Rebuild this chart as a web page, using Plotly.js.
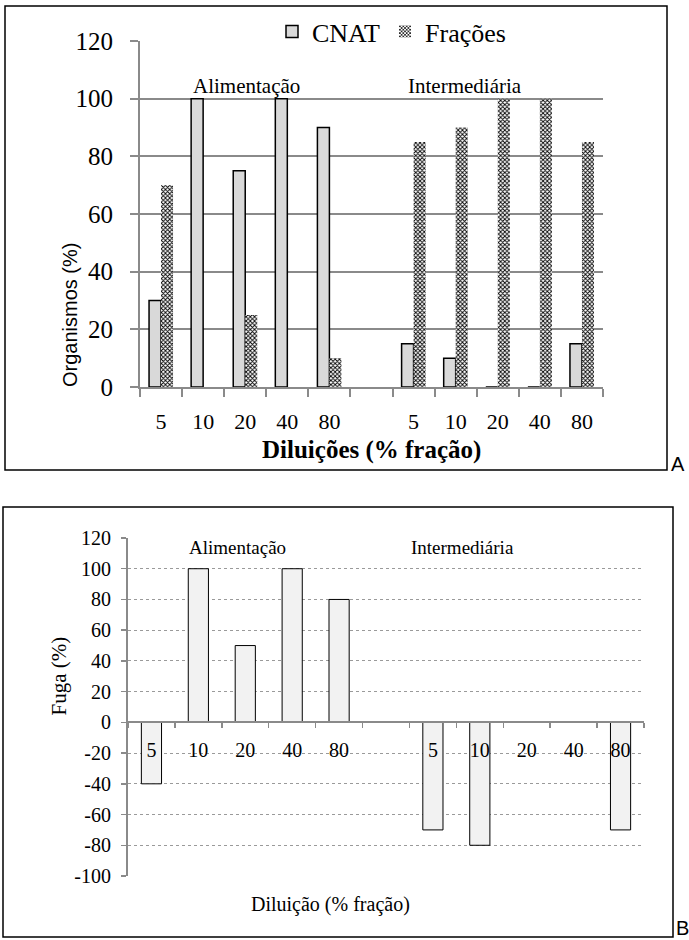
<!DOCTYPE html>
<html>
<head>
<meta charset="utf-8">
<script src="https://cdn.plot.ly/plotly-3.0.1.min.js"></script>
<style>
  html, body { margin: 0; padding: 0; background: #ffffff; }
  #chart { width: 689px; height: 940px; }
</style>
</head>
<body>
<div id="chart"></div>
<script>
// ---------------- data ----------------
const groups = ['Alimentação', 'Intermediária'];
const dilutionLabels = ['5', '10', '20', '40', '80'];
const seriesNames = ['CNAT', 'Frações'];

// Chart A – Organismos (%)
const cnatAlimentacao = [30, 100, 75, 100, 90];
const cnatIntermediaria = [15, 10, 0, 0, 15];
const fracoesAlimentacao = [70, 0, 25, 0, 10];
const fracoesIntermediaria = [85, 90, 100, 100, 85];

// Chart B – Fuga (%)
const fugaAlimentacao = [-40, 100, 50, 100, 80];
const fugaIntermediaria = [-70, -80, 0, 0, -70];

const yTicksA = [0, 20, 40, 60, 80, 100, 120];
const yTicksB = [-100, -80, -60, -40, -20, 0, 20, 40, 60, 80, 100, 120];

// ---------------- helpers ----------------
const W = 689, H = 940;
const px = v => v / W;
const py = v => 1 - v / H;
const slotsPerGroup = dilutionLabels.length + 1;
const xPos = [];
const xText = [];
groups.forEach((g, gi) => dilutionLabels.forEach((d, i) => { xPos.push(gi * slotsPerGroup + i); xText.push(d); }));
const nSlots = groups.length * slotsPerGroup - 1;
const xRange = [-0.5, nSlots - 0.5];

const cnat = cnatAlimentacao.concat(cnatIntermediaria);
const fracoes = fracoesAlimentacao.concat(fracoesIntermediaria);
const fuga = fugaAlimentacao.concat(fugaIntermediaria);

const serif = 'Liberation Serif';
const sans = 'Liberation Sans';
const axisGray = '#8a8a8a';

const xDomA = [px(140), px(603)];
const yDomA = [py(387), py(41)];
const xDomB = [px(128), px(644)];
const yDomB = [py(876), py(538)];
const yRangeB = [yTicksB[0], yTicksB[yTicksB.length - 1]];
const zeroPosB = yDomB[0] + (yDomB[1] - yDomB[0]) * (0 - yRangeB[0]) / (yRangeB[1] - yRangeB[0]);

const traces = [
  {
    type: 'bar', name: seriesNames[0], x: xPos, y: cnat, xaxis: 'x', yaxis: 'y',
    marker: { color: '#d9d9d9', line: { color: '#000000', width: 1.5 } },
    hoverinfo: 'skip'
  },
  {
    type: 'bar', name: seriesNames[1], x: xPos, y: fracoes, xaxis: 'x', yaxis: 'y',
    marker: { color: '#ffffff', line: { color: '#000000', width: 0 },
      pattern: { shape: 'x', fgcolor: '#000000', bgcolor: '#ffffff', size: 3, solidity: 0.5 } },
    hoverinfo: 'skip'
  },
  {
    type: 'bar', name: 'Fuga', x: xPos, y: fuga, xaxis: 'x2', yaxis: 'y2', showlegend: false,
    width: 0.43,
    marker: { color: '#f2f2f2', line: { color: '#000000', width: 1 } },
    hoverinfo: 'skip'
  }
];

const boundaryTicks = [];
for (let i = 0; i <= nSlots; i++) boundaryTicks.push(i - 0.5);

const layout = {
  width: W, height: H,
  margin: { l: 0, r: 0, t: 0, b: 0 },
  paper_bgcolor: '#ffffff', plot_bgcolor: 'rgba(0,0,0,0)',
  barmode: 'group', bargap: 0.43, bargroupgap: 0,
  showlegend: true,
  legend: {
    orientation: 'h', x: px(272), y: py(8), xanchor: 'left', yanchor: 'top',
    font: { family: serif, size: 26, color: '#000' }, itemwidth: 30,
    bgcolor: 'rgba(0,0,0,0)', traceorder: 'normal'
  },
  xaxis: {
    domain: xDomA, range: xRange, anchor: 'y',
    tickmode: 'array', tickvals: xPos, ticktext: xText, ticks: '',
    ticklabelstandoff: 14,
    minor: { tickmode: 'array', tickvals: boundaryTicks, ticks: 'outside', ticklen: 8, tickwidth: 2, tickcolor: axisGray },
    showline: true, linecolor: axisGray, linewidth: 2,
    showgrid: false, zeroline: false,
    tickfont: { family: serif, size: 22, color: '#000' }
  },
  yaxis: {
    domain: yDomA, range: [yTicksA[0], yTicksA[yTicksA.length - 1]], anchor: 'x',
    tickmode: 'array', tickvals: yTicksA, ticktext: yTicksA.map(String),
    ticks: 'outside', ticklen: 8, tickwidth: 2, tickcolor: axisGray,
    ticklabelstandoff: 12,
    showline: true, linecolor: axisGray, linewidth: 2,
    showgrid: true, gridcolor: axisGray, gridwidth: 2, zeroline: false,
    tickfont: { family: serif, size: 25, color: '#000' }
  },
  xaxis2: {
    domain: xDomB, range: xRange, anchor: 'free', position: zeroPosB,
    tickmode: 'array', tickvals: xPos, ticktext: xText, ticks: '',
    ticklabelstandoff: 10,
    minor: { tickmode: 'array', tickvals: boundaryTicks, ticks: 'outside', ticklen: 5, tickwidth: 1.5, tickcolor: axisGray },
    showline: true, linecolor: axisGray, linewidth: 2,
    showgrid: false, zeroline: false,
    tickfont: { family: serif, size: 20, color: '#000' }
  },
  yaxis2: {
    domain: yDomB, range: yRangeB, anchor: 'x2',
    tickmode: 'array', tickvals: yTicksB, ticktext: yTicksB.map(String),
    ticks: 'outside', ticklen: 5, tickwidth: 1.5, tickcolor: axisGray,
    ticklabelstandoff: 6,
    showline: true, linecolor: axisGray, linewidth: 2,
    showgrid: true, gridcolor: '#9a9a9a', gridwidth: 1, griddash: 'dot', zeroline: false,
    tickfont: { family: serif, size: 20, color: '#000' }
  },
  shapes: [
    { type: 'rect', xref: 'paper', yref: 'paper', x0: px(5), x1: px(667), y0: py(470), y1: py(6),
      line: { color: '#000', width: 1.5 }, fillcolor: 'rgba(0,0,0,0)', layer: 'below' },
    { type: 'rect', xref: 'paper', yref: 'paper', x0: px(3), x1: px(673), y0: py(937), y1: py(507),
      line: { color: '#000', width: 1.5 }, fillcolor: 'rgba(0,0,0,0)', layer: 'below' }
  ],
  annotations: [
    { text: groups[0], xref: 'paper', yref: 'paper', x: px(246), y: py(72), showarrow: false,
      font: { family: serif, size: 21, color: '#000' } },
    { text: groups[1], xref: 'paper', yref: 'paper', x: px(524), y: py(72), showarrow: false,
      font: { family: serif, size: 21, color: '#000' } },
    { text: 'Organismos (%)', xref: 'paper', yref: 'paper', x: px(57), y: py(241), showarrow: false,
      textangle: -90, font: { family: sans, size: 20, color: '#000' } },
    { text: '<b>Diluições (% fração)</b>', xref: 'paper', yref: 'paper', x: px(371), y: py(450), showarrow: false,
      font: { family: serif, size: 25, color: '#000' } },
    { text: 'A', xref: 'paper', yref: 'paper', x: px(669), y: py(477), xanchor: 'left', yanchor: 'bottom', showarrow: false,
      font: { family: sans, size: 20, color: '#000' } },

    { text: groups[0], xref: 'paper', yref: 'paper', x: px(237), y: py(547), showarrow: false,
      font: { family: serif, size: 19, color: '#000' } },
    { text: groups[1], xref: 'paper', yref: 'paper', x: px(516), y: py(547), showarrow: false,
      font: { family: serif, size: 19, color: '#000' } },
    { text: 'Fuga (%)', xref: 'paper', yref: 'paper', x: px(44), y: py(718), showarrow: false,
      textangle: -90, font: { family: serif, size: 21, color: '#000' } },
    { text: 'Diluição (% fração)', xref: 'paper', yref: 'paper', x: px(330), y: py(918), showarrow: false,
      font: { family: serif, size: 20, color: '#000' } },
    { text: 'B', xref: 'paper', yref: 'paper', x: px(674), y: py(941), xanchor: 'left', yanchor: 'bottom', showarrow: false,
      font: { family: sans, size: 20, color: '#000' } }
  ]
};

Plotly.newPlot('chart', traces, layout, { displayModeBar: false, staticPlot: true });
</script>
</body>
</html>
